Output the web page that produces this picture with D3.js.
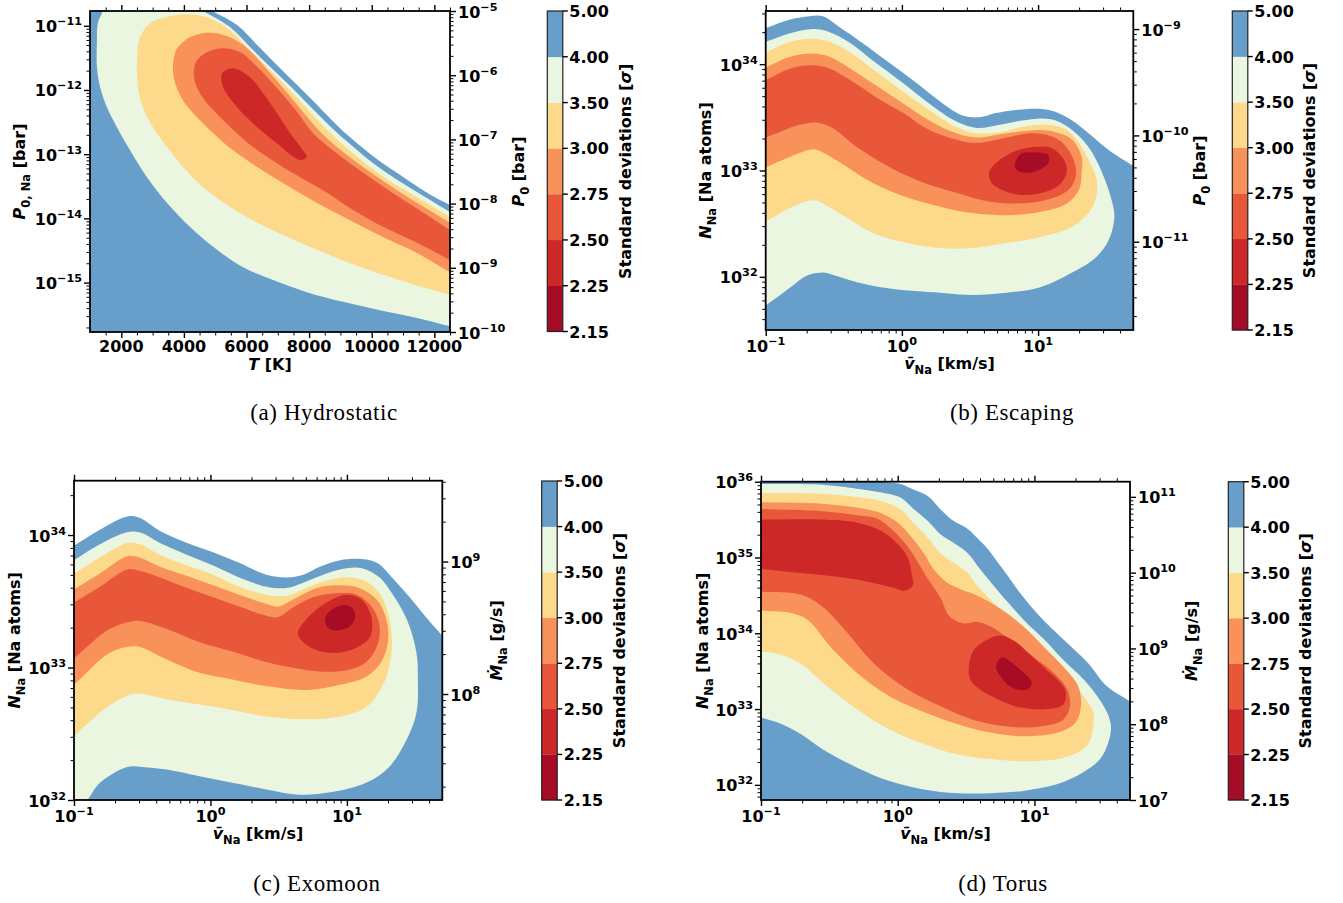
<!DOCTYPE html>
<html><head><meta charset="utf-8">
<script src="https://cdn.jsdelivr.net/npm/d3@7"></script>
<style>
html,body{margin:0;padding:0;background:#fff;}
svg text{font-family:"DejaVu Sans",sans-serif;font-weight:bold;fill:#000;}
svg text.cap{font-family:"Liberation Serif",serif;font-weight:normal;}
</style></head><body>
<svg id="chart" width="1343" height="903"></svg>
<script>
// ======================= DATA =======================
const sigmaLevels = [2.15, 2.25, 2.5, 2.75, 3.0, 3.5, 4.0, 5.0];
const sigmaTickLabels = ["2.15","2.25","2.50","2.75","3.00","3.50","4.00","5.00"];
const bandColors = ["#a60c26","#cc2828","#e9573b","#f8925a","#fcd98b","#ebf6e1","#689fca"];

// (a) Hydrostatic — contour outlines, points [T (K), log10 P0,Na (bar)]
const hydroTempTicks = [2000,4000,6000,8000,10000,12000];
const hydroS5 = [[4900,-10.77],[5700,-10.99],[6340,-11.30],[6970,-11.61],[7610,-11.92],[8250,-12.23],[8890,-12.55],[9530,-12.83],[10260,-13.11],[10900,-13.32],[11540,-13.53],[12020,-13.67],[12500,-13.79]];
const hydroS4lo = [[12500,-15.68],[11450,-15.55],[10260,-15.43],[9080,-15.30],[7930,-15.15],[6850,-14.96],[5890,-14.76],[5060,-14.49],[4190,-14.13],[3460,-13.76],[2820,-13.36],[2280,-12.94],[1860,-12.58],[1540,-12.27],[1320,-11.95],[1220,-11.64],[1220,-11.27],[1250,-10.96],[1380,-10.80]];
const hydroS4hi = [[4610,-10.77],[5470,-11.02],[6110,-11.33],[6750,-11.64],[7420,-11.95],[8060,-12.27],[8700,-12.58],[9370,-12.87],[10070,-13.15],[10810,-13.40],[11610,-13.64],[12500,-13.90]];
const hydroS35 = [[12500,-15.19],[11450,-15.05],[10360,-14.88],[9310,-14.70],[8250,-14.49],[7170,-14.26],[6210,-14.03],[5380,-13.79],[4610,-13.51],[3970,-13.20],[3460,-12.89],[3010,-12.58],[2690,-12.27],[2530,-11.95],[2500,-11.58],[2600,-11.18],[2920,-10.96],[3460,-10.86],[4100,-10.82],[4670,-10.86],[5340,-11.02],[6020,-11.33],[6690,-11.66],[7360,-11.99],[7960,-12.31],[8570,-12.62],[9240,-12.92],[9940,-13.20],[10680,-13.45],[11480,-13.68],[12500,-13.98]];
const hydroS3 = [[12500,-14.84],[11450,-14.54],[10360,-14.29],[9310,-14.03],[8250,-13.76],[7170,-13.45],[6340,-13.20],[5570,-12.94],[4930,-12.67],[4290,-12.36],[3970,-12.16],[3720,-11.89],[3650,-11.64],[3750,-11.38],[3880,-11.30],[4190,-11.18],[4830,-11.11],[5470,-11.18],[6020,-11.35],[6530,-11.61],[7170,-11.97],[7800,-12.34],[8350,-12.65],[9020,-12.94],[9720,-13.20],[10460,-13.45],[11250,-13.70],[11890,-13.89],[12500,-14.07]];
const hydroS275 = [[12500,-14.65],[11450,-14.38],[10360,-14.13],[9400,-13.87],[8570,-13.60],[7710,-13.36],[6970,-13.14],[6210,-12.89],[5570,-12.62],[4930,-12.31],[4510,-12.05],[4320,-11.80],[4390,-11.56],[4740,-11.41],[5250,-11.35],[5790,-11.41],[6340,-11.64],[6970,-11.97],[7610,-12.34],[8120,-12.67],[8760,-12.94],[9470,-13.20],[10200,-13.45],[11000,-13.71],[11800,-13.96],[12500,-14.18]];
const hydroS25 = [[5220,-11.74],[5570,-11.66],[6110,-11.80],[6530,-12.05],[6970,-12.36],[7390,-12.67],[7800,-12.94],[7930,-13.04],[7740,-13.09],[7490,-13.04],[6970,-12.83],[6340,-12.58],[5700,-12.27],[5250,-11.95]];

// (b) Escaping — points [log10 v (km/s), log10 N_Na]
const escS5 = [[-1.00,34.34],[-0.82,34.42],[-0.68,34.45],[-0.58,34.45],[-0.46,34.35],[-0.29,34.20],[-0.09,34.01],[0.11,33.82],[0.30,33.63],[0.44,33.52],[0.57,33.50],[0.69,33.54],[0.84,33.57],[1.01,33.58],[1.13,33.55],[1.25,33.47],[1.37,33.35],[1.52,33.19],[1.69,33.05]];
const escS4 = [[-1.00,34.21],[-0.82,34.29],[-0.65,34.33],[-0.53,34.30],[-0.38,34.20],[-0.19,34.01],[0.01,33.82],[0.20,33.63],[0.40,33.46],[0.55,33.40],[0.72,33.43],[0.88,33.47],[1.03,33.49],[1.13,33.47],[1.25,33.38],[1.37,33.22],[1.47,32.98],[1.54,32.72],[1.56,32.56],[1.52,32.35],[1.43,32.19],[1.25,32.04],[1.01,31.90],[0.77,31.85],[0.52,31.83],[0.28,31.85],[-0.09,31.89],[-0.33,31.95],[-0.51,32.02],[-0.58,32.04],[-0.70,32.01],[-0.82,31.90],[-1.00,31.73]];
const escS35 = [[-1.00,34.11],[-0.82,34.21],[-0.65,34.24],[-0.53,34.21],[-0.38,34.11],[-0.19,33.93],[0.01,33.74],[0.20,33.57],[0.40,33.41],[0.55,33.35],[0.72,33.36],[0.88,33.41],[1.08,33.43],[1.21,33.38],[1.30,33.26],[1.37,33.10],[1.43,32.91],[1.42,32.72],[1.37,32.60],[1.25,32.47],[1.01,32.37],[0.77,32.32],[0.52,32.27],[0.28,32.27],[0.03,32.32],[-0.21,32.41],[-0.46,32.60],[-0.58,32.69],[-0.65,32.72],[-0.82,32.65],[-1.00,32.52]];
const escS3 = [[-1.00,33.97],[-0.82,34.07],[-0.65,34.10],[-0.53,34.07],[-0.38,33.96],[-0.19,33.80],[0.01,33.63],[0.20,33.47],[0.40,33.35],[0.55,33.31],[0.77,33.35],[1.01,33.38],[1.13,33.36],[1.25,33.29],[1.32,33.13],[1.32,32.98],[1.30,32.82],[1.21,32.69],[1.01,32.61],[0.77,32.58],[0.52,32.60],[0.28,32.66],[0.03,32.75],[-0.21,32.88],[-0.46,33.08],[-0.58,33.17],[-0.65,33.20],[-0.82,33.13],[-1.00,33.03]];
const escS275 = [[-1.00,33.85],[-0.82,33.96],[-0.65,33.99],[-0.53,33.96],[-0.38,33.85],[-0.19,33.69],[0.01,33.54],[0.20,33.38],[0.40,33.29],[0.55,33.26],[0.77,33.31],[0.94,33.35],[1.08,33.33],[1.18,33.26],[1.25,33.13],[1.28,32.98],[1.24,32.84],[1.13,32.75],[0.96,32.70],[0.77,32.69],[0.59,32.72],[0.40,32.79],[0.15,32.89],[-0.09,33.03],[-0.33,33.22],[-0.51,33.40],[-0.62,33.45],[-0.75,33.43],[-1.00,33.31]];
const escS25 = [[0.64,32.98],[0.69,33.07],[0.81,33.17],[0.96,33.22],[1.10,33.21],[1.19,33.10],[1.21,32.98],[1.15,32.86],[1.03,32.79],[0.88,32.77],[0.77,32.80],[0.66,32.88]];
const escS225 = [[0.84,33.10],[0.88,33.16],[0.99,33.17],[1.07,33.15],[1.08,33.08],[1.03,33.02],[0.94,32.98],[0.86,32.99],[0.83,33.03]];

// (c) Exomoon — points [log10 v (km/s), log10 N_Na]
const moonS5 = [[-1.00,33.92],[-0.81,34.04],[-0.61,34.14],[-0.52,34.13],[-0.37,34.03],[-0.17,33.94],[0.02,33.87],[0.21,33.79],[0.41,33.70],[0.56,33.68],[0.68,33.70],[0.80,33.76],[0.95,33.81],[1.09,33.82],[1.22,33.79],[1.33,33.68],[1.46,33.53],[1.58,33.38],[1.69,33.25]];
const moonS4 = [[-1.00,33.81],[-0.81,33.93],[-0.61,34.02],[-0.52,34.02],[-0.37,33.94],[-0.17,33.85],[0.02,33.77],[0.21,33.68],[0.41,33.61],[0.56,33.60],[0.68,33.64],[0.85,33.71],[1.00,33.75],[1.11,33.75],[1.24,33.68],[1.33,33.56],[1.44,33.36],[1.51,33.11],[1.52,32.91],[1.51,32.66],[1.44,32.46],[1.31,32.25],[1.14,32.13],[0.89,32.06],[0.65,32.04],[0.41,32.08],[0.16,32.13],[-0.08,32.18],[-0.32,32.23],[-0.50,32.25],[-0.61,32.25],[-0.81,32.13],[-0.90,32.00]];
const moonS35 = [[-1.00,33.71],[-0.81,33.83],[-0.61,33.94],[-0.52,33.93],[-0.37,33.85],[-0.17,33.77],[0.02,33.70],[0.21,33.61],[0.41,33.55],[0.56,33.54],[0.70,33.60],[0.87,33.66],[1.02,33.68],[1.14,33.65],[1.24,33.56],[1.30,33.41],[1.33,33.21],[1.31,33.01],[1.26,32.86],[1.14,32.70],[0.95,32.63],[0.70,32.61],[0.41,32.63],[0.16,32.68],[-0.08,32.72],[-0.32,32.76],[-0.50,32.80],[-0.57,32.80],[-0.76,32.70],[-1.00,32.48]];
const moonS3 = [[-1.00,33.59],[-0.81,33.71],[-0.61,33.84],[-0.52,33.83],[-0.37,33.76],[-0.17,33.69],[0.02,33.62],[0.21,33.55],[0.38,33.49],[0.49,33.46],[0.60,33.51],[0.78,33.60],[0.95,33.62],[1.09,33.60],[1.22,33.51],[1.29,33.36],[1.30,33.19],[1.25,33.04],[1.14,32.93],[0.95,32.87],[0.70,32.83],[0.41,32.86],[0.16,32.91],[-0.08,32.96],[-0.32,33.06],[-0.50,33.15],[-0.57,33.16],[-0.74,33.11],[-1.00,32.87]];
const moonS275 = [[-1.00,33.49],[-0.81,33.61],[-0.61,33.74],[-0.52,33.73],[-0.37,33.68],[-0.17,33.60],[0.02,33.53],[0.21,33.46],[0.38,33.40],[0.49,33.38],[0.60,33.45],[0.75,33.53],[0.92,33.56],[1.07,33.55],[1.18,33.46],[1.24,33.31],[1.22,33.16],[1.14,33.04],[1.00,32.98],[0.80,32.97],[0.60,33.00],[0.41,33.04],[0.16,33.12],[-0.08,33.19],[-0.32,33.29],[-0.50,33.35],[-0.57,33.35],[-0.74,33.29],[-1.00,33.07]];
const moonS25 = [[0.64,33.26],[0.70,33.36],[0.85,33.49],[1.00,33.55],[1.11,33.51],[1.18,33.38],[1.17,33.23],[1.07,33.15],[0.92,33.11],[0.78,33.13],[0.68,33.19]];
const moonS225 = [[0.84,33.36],[0.87,33.42],[0.97,33.47],[1.04,33.45],[1.06,33.38],[1.02,33.31],[0.92,33.28],[0.86,33.30]];

// (d) Torus — points [log10 v (km/s), log10 N_Na]
const torusS5 = [[-0.11,36.00],[0.02,35.97],[0.11,35.90],[0.22,35.81],[0.31,35.64],[0.41,35.48],[0.51,35.38],[0.58,35.26],[0.66,35.11],[0.75,34.89],[0.82,34.72],[0.90,34.52],[1.04,34.22],[1.21,33.92],[1.39,33.61],[1.53,33.30],[1.70,33.10]];
const torusS4 = [[-1.00,35.97],[-0.55,35.96],[-0.27,35.90],[-0.13,35.86],[0.02,35.79],[0.11,35.65],[0.22,35.48],[0.31,35.31],[0.41,35.19],[0.51,35.06],[0.60,34.85],[0.70,34.63],[0.80,34.42],[0.92,34.18],[1.07,33.92],[1.21,33.65],[1.36,33.39],[1.46,33.17],[1.53,32.96],[1.56,32.77],[1.54,32.56],[1.48,32.34],[1.36,32.17],[1.17,32.01],[0.92,31.92],[0.68,31.89],[0.44,31.89],[0.19,31.94],[-0.06,32.05],[-0.30,32.23],[-0.55,32.47],[-0.71,32.67],[-0.86,32.81],[-1.00,32.89]];
const torusS35 = [[-1.00,35.85],[-0.55,35.84],[-0.27,35.79],[-0.13,35.75],[0.02,35.64],[0.11,35.46],[0.22,35.26],[0.31,35.06],[0.41,34.93],[0.51,34.80],[0.58,34.63],[0.68,34.44],[0.80,34.22],[0.95,33.96],[1.10,33.69],[1.24,33.43],[1.36,33.17],[1.43,32.96],[1.43,32.77],[1.40,32.56],[1.32,32.43],[1.17,32.34],[0.92,32.31],[0.68,32.34],[0.44,32.40],[0.19,32.54],[-0.06,32.73],[-0.30,33.00],[-0.55,33.35],[-0.71,33.60],[-0.88,33.73],[-1.00,33.76]];
const torusS3 = [[-1.00,35.73],[-0.55,35.71],[-0.27,35.65],[-0.13,35.59],[0.00,35.46],[0.09,35.29],[0.19,35.06],[0.26,34.85],[0.36,34.67],[0.46,34.58],[0.55,34.52],[0.73,34.35],[0.92,34.09],[1.07,33.82],[1.21,33.56],[1.32,33.30],[1.34,33.04],[1.30,32.82],[1.17,32.69],[0.92,32.64],[0.68,32.69],[0.44,32.80],[0.19,32.96],[-0.06,33.17],[-0.30,33.48],[-0.49,33.82],[-0.66,34.18],[-0.79,34.27],[-1.00,34.30]];
const torusS275 = [[-1.00,35.64],[-0.55,35.61],[-0.27,35.55],[-0.15,35.51],[-0.03,35.35],[0.07,35.15],[0.15,34.93],[0.22,34.72],[0.31,34.48],[0.38,34.22],[0.48,34.13],[0.58,34.15],[0.68,34.09],[0.82,33.92],[0.99,33.69],[1.14,33.48],[1.24,33.26],[1.26,33.04],[1.21,32.86],[1.04,32.77],[0.80,32.77],[0.55,32.86],[0.31,33.04],[0.07,33.26],[-0.18,33.61],[-0.37,34.01],[-0.55,34.35],[-0.71,34.51],[-1.00,34.55]];
const torusS25a = [[-1.00,35.50],[-0.55,35.50],[-0.30,35.46],[-0.11,35.34],[0.02,35.14],[0.08,34.97],[0.10,34.80],[0.11,34.63],[0.05,34.56],[-0.03,34.60],[-0.30,34.71],[-0.55,34.77],[-0.79,34.81],[-1.00,34.85]];
const torusS25b = [[0.52,33.56],[0.55,33.76],[0.63,33.89],[0.75,33.97],[0.86,33.89],[0.95,33.75],[1.07,33.55],[1.19,33.35],[1.23,33.22],[1.21,33.06],[1.10,33.00],[0.90,33.02],[0.73,33.13],[0.60,33.26],[0.53,33.39]];
const torusS225 = [[0.72,33.55],[0.74,33.65],[0.77,33.68],[0.85,33.59],[0.92,33.48],[0.98,33.36],[0.96,33.27],[0.90,33.25],[0.82,33.30],[0.77,33.39]];

// ======================= RENDER =======================
const svg = d3.select("#chart");
const FS = 16;

const X_LABEL_V = [{t:"v\u0304",it:1},{t:"Na",sub:1},{t:" [km/s]"}];
const Y_LABEL_N = [{t:"N",it:1},{t:"Na",sub:1},{t:" [Na atoms]"}];
const R_LABEL_P0 = [{t:"P",it:1},{t:"0",sub:1},{t:" [bar]"}];
const R_LABEL_M = [{t:"\u1E40",it:1},{t:"Na",sub:1},{t:" [g/s]"}];

const panels = [
 {box:{x0:90,x1:450,y0:11,y1:332}, xType:"lin", xDom:[1000,12500], yDom:[-15.77,-10.77], rDom:[-10,-5],
  cbar:{x:547.3,y0:11,y1:331.5}, labX:[270,370], labY:19.5, labR:519, labC:626,
  xlabel:[{t:"T",it:1},{t:" [K]"}], ylabel:[{t:"P",it:1},{t:"0, Na",sub:1},{t:" [bar]"}], rlabel:R_LABEL_P0,
  caption:"(a) Hydrostatic", cap:[324,420],
  regions:[{band:6,parts:[hydroS5,"BR","BL","TL"]},{band:5,parts:[hydroS4lo,hydroS4hi]},{band:4,parts:[hydroS35]},
           {band:3,parts:[hydroS3]},{band:2,parts:[hydroS275]},{band:1,parts:[hydroS25],closed:1}]},
 {box:{x0:765.7,x1:1133.3,y0:11,y1:330}, xType:"log", xDom:[-1,Math.log10(50)], yDom:[31.5,34.5], rDom:[-11.83,-8.83],
  cbar:{x:1232.3,y0:11,y1:330}, labX:[949.5,369], labY:706, labR:1200, labC:1310,
  xlabel:X_LABEL_V, ylabel:Y_LABEL_N, rlabel:R_LABEL_P0,
  caption:"(b) Escaping", cap:[1012,420],
  regions:[{band:6,parts:[escS5,"BR","BL","TL"]},{band:5,parts:[escS4]},{band:4,parts:[escS35]},{band:3,parts:[escS3]},
           {band:2,parts:[escS275]},{band:1,parts:[escS25],closed:1},{band:0,parts:[escS225],closed:1}]},
 {box:{x0:74,x1:442.3,y0:480.7,y1:800}, xType:"log", xDom:[-1,Math.log10(50)], yDom:[32,34.41], rDom:[7.2,9.61],
  cbar:{x:541.7,y0:481,y1:800}, labX:[258,839], labY:14.5, labR:497, labC:619.5,
  xlabel:X_LABEL_V, ylabel:Y_LABEL_N, rlabel:R_LABEL_M,
  caption:"(c) Exomoon", cap:[317,891],
  regions:[{band:6,parts:[moonS5,"BR","BL","TL"]},{band:5,parts:[moonS4,"BL"]},{band:4,parts:[moonS35]},{band:3,parts:[moonS3]},
           {band:2,parts:[moonS275]},{band:1,parts:[moonS25],closed:1},{band:0,parts:[moonS225],closed:1}]},
 {box:{x0:761,x1:1130,y0:481.7,y1:800}, xType:"log", xDom:[-1,Math.log10(50)], yDom:[31.8,36], rDom:[7,11.2],
  cbar:{x:1228.3,y0:481.7,y1:800}, labX:[945.5,839], labY:702.5, labR:1192, labC:1306,
  xlabel:X_LABEL_V, ylabel:Y_LABEL_N, rlabel:R_LABEL_M,
  caption:"(d) Torus", cap:[1003,891],
  regions:[{band:6,parts:[torusS5,"BR","BL","TL"]},{band:5,parts:[torusS4]},{band:4,parts:[torusS35]},{band:3,parts:[torusS3]},
           {band:2,parts:[torusS275]},{band:1,parts:[torusS25a]},{band:1,parts:[torusS25b],closed:1},{band:0,parts:[torusS225],closed:1}]}
];

function richText(sel, parts, size){
  let shift = 0;
  parts.forEach(p => {
    const target = p.sub ? size*0.32 : (p.sup ? -size*0.45 : 0);
    const ts = sel.append("tspan").text(p.t);
    if (target - shift !== 0) ts.attr("dy", target - shift);
    shift = target;
    if (p.sub || p.sup) ts.attr("font-size", size*0.72);
    if (p.it) ts.attr("font-style", "italic");
  });
}
function powLabel(g, e, x, y, anchor){
  const t = g.append("text").attr("x",x).attr("y",y).attr("text-anchor",anchor).attr("font-size",FS);
  t.append("tspan").text("10");
  t.append("tspan").attr("dy",-7).attr("font-size",FS*0.7).text(e<0 ? "\u2212"+(-e) : String(e));
}
function logMajors(e0,e1){ const o=[]; for(let e=Math.ceil(e0-1e-9); e<=Math.floor(e1+1e-9); e++) o.push(e); return o; }
function logMinors(e0,e1){ const o=[]; for(let e=Math.floor(e0)-1; e<=Math.ceil(e1); e++) for(let k=2;k<=9;k++){ const v=e+Math.log10(k); if(v>e0+1e-6 && v<e1-1e-6) o.push(v);} return o; }

function tickAxis(g, axisFn, scale, values, size, transform, sw){
  const a = axisFn(scale).tickValues(values).tickSize(size).tickSizeOuter(0).tickFormat("");
  const gg = g.append("g").attr("transform", transform).call(a);
  gg.select(".domain").remove();
  gg.selectAll("line").attr("stroke","#000").attr("stroke-width",sw);
  gg.selectAll("text").remove();
}

const lineOpen = d3.line().curve(d3.curveCatmullRom.alpha(0.5));
const lineClosed = d3.line().curve(d3.curveCatmullRomClosed.alpha(0.5));
function extend(px){
  const n = px.length;
  const e = (p,q) => { const dx=p[0]-q[0], dy=p[1]-q[1], L=Math.hypot(dx,dy)||1; return [p[0]+dx/L*40, p[1]+dy/L*40]; };
  return [e(px[0],px[1]), ...px, e(px[n-1],px[n-2])];
}

panels.forEach((P, pi) => {
  const b = P.box;
  const g = svg.append("g");
  const xs = P.xType === "lin" ? d3.scaleLinear().domain(P.xDom).range([b.x0,b.x1])
                               : d3.scaleLog().domain([10**P.xDom[0], 10**P.xDom[1]]).range([b.x0,b.x1]);
  const ys = d3.scaleLog().domain([10**P.yDom[0], 10**P.yDom[1]]).range([b.y1,b.y0]);
  const rs = d3.scaleLog().domain([10**P.rDom[0], 10**P.rDom[1]]).range([b.y1,b.y0]);
  const X = P.xType === "lin" ? (v => xs(v)) : (v => xs(10**v));
  const Y = v => ys(10**v);

  const cid = "clip"+pi;
  svg.append("clipPath").attr("id",cid).append("rect").attr("x",b.x0).attr("y",b.y0).attr("width",b.x1-b.x0).attr("height",b.y1-b.y0);
  const cg = g.append("g").attr("clip-path",`url(#${cid})`);
  const pad = 60;
  const corners = {TL:[b.x0-pad,b.y0-pad],TR:[b.x1+pad,b.y0-pad],BR:[b.x1+pad,b.y1+pad],BL:[b.x0-pad,b.y1+pad]};
  P.regions.forEach(reg => {
    let d;
    if (reg.closed) {
      d = lineClosed(reg.parts[0].map(p => [X(p[0]), Y(p[1])]));
    } else {
      d = "";
      reg.parts.forEach((part,i) => {
        let seg;
        if (typeof part === "string") { const c = corners[part]; seg = "L"+c[0]+","+c[1]; }
        else { seg = lineOpen(extend(part.map(p => [X(p[0]), Y(p[1])]))); if (i>0) seg = "L"+seg.slice(1); }
        d += seg;
      });
      d += "Z";
    }
    cg.append("path").attr("d", d).attr("fill", bandColors[reg.band]).attr("stroke","none");
  });

  const MAJ=6, MIN=3.5, SWM=1.4, SWn=1.0;
  let xMaj, xMin;
  if (P.xType === "lin") {
    xMaj = hydroTempTicks;
    xMin = d3.range(1500, 12500+1, 500).filter(v => !hydroTempTicks.includes(v));
  } else {
    xMaj = logMajors(P.xDom[0],P.xDom[1]).map(e => 10**e);
    xMin = logMinors(P.xDom[0],P.xDom[1]).map(e => 10**e);
  }
  tickAxis(g, d3.axisBottom, xs, xMaj, MAJ, `translate(0,${b.y1})`, SWM);
  tickAxis(g, d3.axisBottom, xs, xMin, MIN, `translate(0,${b.y1})`, SWn);
  tickAxis(g, d3.axisTop, xs, xMaj, MAJ, `translate(0,${b.y0})`, SWM);
  tickAxis(g, d3.axisTop, xs, xMin, MIN, `translate(0,${b.y0})`, SWn);
  const yMajE = logMajors(P.yDom[0],P.yDom[1]);
  tickAxis(g, d3.axisLeft, ys, yMajE.map(e=>10**e), MAJ, `translate(${b.x0},0)`, SWM);
  tickAxis(g, d3.axisLeft, ys, logMinors(P.yDom[0],P.yDom[1]).map(e=>10**e), MIN, `translate(${b.x0},0)`, SWn);
  const rMajE = logMajors(P.rDom[0],P.rDom[1]);
  tickAxis(g, d3.axisRight, rs, rMajE.map(e=>10**e), MAJ, `translate(${b.x1},0)`, SWM);
  tickAxis(g, d3.axisRight, rs, logMinors(P.rDom[0],P.rDom[1]).map(e=>10**e), MIN, `translate(${b.x1},0)`, SWn);

  g.append("rect").attr("x",b.x0).attr("y",b.y0).attr("width",b.x1-b.x0).attr("height",b.y1-b.y0)
   .attr("fill","none").attr("stroke","#000").attr("stroke-width",1.8);

  if (P.xType === "lin") {
    xMaj.forEach(v => g.append("text").attr("x",xs(v)).attr("y",b.y1+20).attr("text-anchor","middle").attr("font-size",FS).text(String(v)));
  } else {
    logMajors(P.xDom[0],P.xDom[1]).forEach(e => powLabel(g, e, xs(10**e), b.y1+21.5, "middle"));
  }
  yMajE.forEach(e => powLabel(g, e, b.x0-8, ys(10**e)+6.5, "end"));
  rMajE.forEach(e => powLabel(g, e, b.x1+8, rs(10**e)+6.5, "start"));

  const cy = (b.y0+b.y1)/2;
  richText(g.append("text").attr("x",P.labX[0]).attr("y",P.labX[1]).attr("text-anchor","middle").attr("font-size",FS), P.xlabel, FS);
  richText(g.append("text").attr("transform",`translate(${P.labY+5},${cy}) rotate(-90)`).attr("text-anchor","middle").attr("font-size",FS), P.ylabel, FS);
  richText(g.append("text").attr("transform",`translate(${P.labR+5},${cy}) rotate(-90)`).attr("text-anchor","middle").attr("font-size",FS), P.rlabel, FS);

  const cb = P.cbar, cw = 15.5;
  const cbs = d3.scalePoint().domain(sigmaLevels).range([cb.y1, cb.y0]);
  bandColors.forEach((c,i) => {
    const yTop = cbs(sigmaLevels[i+1]), yBot = cbs(sigmaLevels[i]);
    g.append("rect").attr("x",cb.x).attr("y",yTop).attr("width",cw).attr("height",yBot-yTop+0.3).attr("fill",c);
  });
  g.append("rect").attr("x",cb.x).attr("y",cb.y0).attr("width",cw).attr("height",cb.y1-cb.y0).attr("fill","none").attr("stroke","#222").attr("stroke-width",1.2);
  sigmaLevels.forEach((s,i) => {
    const yy = cbs(s);
    g.append("line").attr("x1",cb.x+cw).attr("x2",cb.x+cw+5).attr("y1",yy).attr("y2",yy).attr("stroke","#000").attr("stroke-width",1.4);
    g.append("text").attr("x",cb.x+cw+6.5).attr("y",yy+6).attr("font-size",FS).text(sigmaTickLabels[i]);
  });
  richText(g.append("text").attr("transform",`translate(${P.labC+5},${(cb.y0+cb.y1)/2}) rotate(-90)`).attr("text-anchor","middle").attr("font-size",FS),
    [{t:"Standard deviations ["},{t:"\u03C3",it:1},{t:"]"}], FS);

  svg.append("text").attr("class","cap").attr("x",P.cap[0]).attr("y",P.cap[1]).attr("text-anchor","middle")
     .attr("font-size",23).attr("letter-spacing",0.6).text(P.caption);
});
</script>
</body></html>
